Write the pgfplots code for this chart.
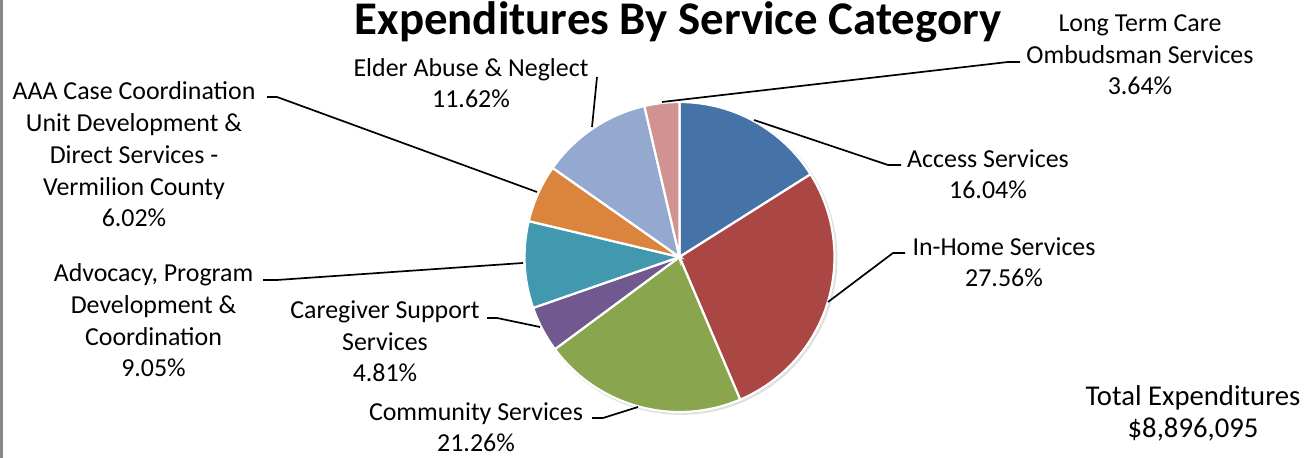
\documentclass[border=0pt]{standalone}
\usepackage{fontspec}
\setmainfont{Carlito}
\usepackage{pgfplots}
\pgfplotsset{compat=1.18}
\usetikzlibrary{calc}
\definecolor{cAccess}{HTML}{4572A7}
\definecolor{cInHome}{HTML}{AA4643}
\definecolor{cComm}{HTML}{89A54E}
\definecolor{cCare}{HTML}{71588F}
\definecolor{cAdv}{HTML}{4198AF}
\definecolor{cAAA}{HTML}{DB843D}
\definecolor{cElder}{HTML}{93A9CF}
\definecolor{cLTC}{HTML}{D19392}
\newcommand\lab{\fontsize{13}{16}\selectfont}
\begin{document}
\begin{tikzpicture}
\begin{axis}[hide axis, scale only axis, x=0.5bp, y=0.5bp,
  xmin=0, xmax=1313, ymin=0, ymax=458, clip=false]
\coordinate (ll) at (axis cs:0,0);
\coordinate (ur) at (axis cs:1313,458);
% soft shadow
\fill[black!12] (axis cs:681,199.5) circle[radius=78.2bp];
\gdef\cum{0}
\foreach \p/\col in {16.04/cAccess, 27.56/cInHome, 21.26/cComm, 4.81/cCare,
                     9.05/cAdv, 6.02/cAAA, 11.62/cElder, 3.64/cLTC}{
  \pgfmathsetmacro\sa{90-3.6*\cum}
  \pgfmathsetmacro\sb{90-3.6*(\cum+\p)}
  \edef\temp{\noexpand\fill[\col,draw=white,line width=1.1bp]
     (axis cs:679.5,201) -- ++(\sa:77.5bp)
     arc[start angle=\sa,end angle=\sb,radius=77.5bp] -- cycle;}
  \temp
  \pgfmathsetmacro\ncum{\cum+\p}
  \global\let\cum\ncum
}
% leader lines
\begin{scope}[black, line width=0.85bp]
\draw (axis cs:754,338) -- (axis cs:888,293) -- (axis cs:901,293);
\draw (axis cs:828,156) -- (axis cs:893,205) -- (axis cs:905,205);
\draw (axis cs:638,51) -- (axis cs:603,40) -- (axis cs:592,40);
\draw (axis cs:540,131) -- (axis cs:497,140) -- (axis cs:487,140);
\draw (axis cs:523,195) -- (axis cs:277,178) -- (axis cs:263,178);
\draw (axis cs:537,266) -- (axis cs:277,361) -- (axis cs:267,361);
\draw (axis cs:592,331) -- (axis cs:597,381);
\draw (axis cs:662,356) -- (axis cs:1008,396) -- (axis cs:1020,396);
\end{scope}
% labels (anchor=base is the baseline of the last line)
\begin{scope}[every node/.style={align=center, anchor=base, inner sep=0pt, font=\lab}]
\node at (axis cs:988,259) {Access Services\\16.04\%};
\node at (axis cs:1004,171) {In-Home Services\\27.56\%};
\node at (axis cs:476,6) {Community Services\\21.26\%};
\node at (axis cs:385,76) {Caregiver Support\\Services\\4.81\%};
\node at (axis cs:153.5,81) {Advocacy, Program\\Development \&\\Coordination\\9.05\%};
\node at (axis cs:134,231) {AAA Case Coordination\\Unit Development \&\\Direct Services -\\Vermilion County\\6.02\%};
\node at (axis cs:471,350) {Elder Abuse \& Neglect\\11.62\%};
\node at (axis cs:1140,363) {Long Term Care\\Ombudsman Services\\3.64\%};
\node[font=\fontsize{14.4}{16.5}\selectfont] at (axis cs:1193,20) {Total Expenditures\\\$8,896,095};
\node[font=\fontsize{23.5}{28}\selectfont\bfseries] at (axis cs:678,423) {Expenditures By Service Category};
\end{scope}
\draw[black!47, line width=1.5bp] (axis cs:1.5,0) -- (axis cs:1.5,458);
\end{axis}
\pgfresetboundingbox
\useasboundingbox (ll) rectangle (ur);
\end{tikzpicture}
\end{document}
